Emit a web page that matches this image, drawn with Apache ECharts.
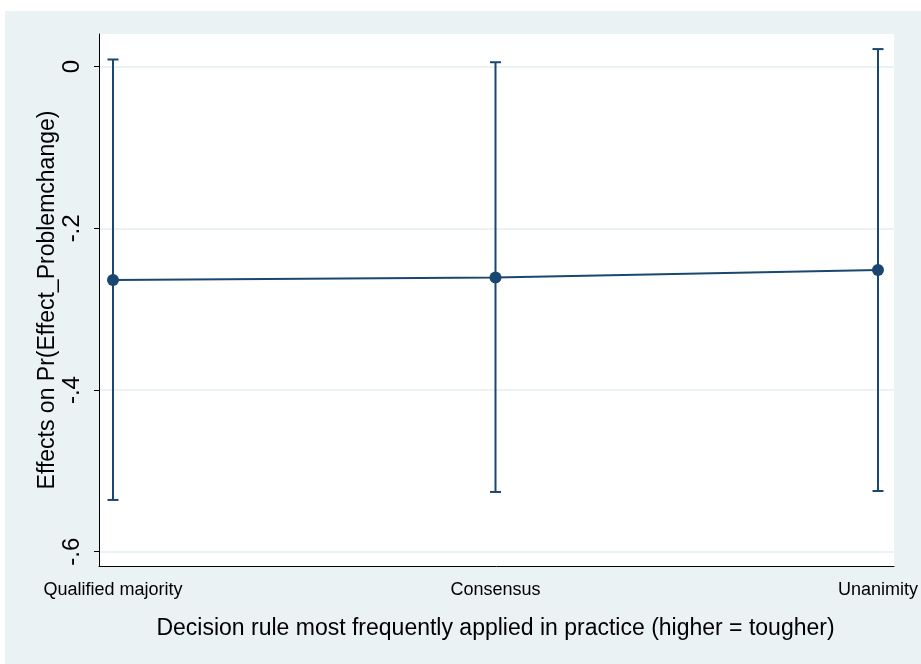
<!DOCTYPE html>
<html>
<head>
<meta charset="utf-8">
<script src="https://cdn.jsdelivr.net/npm/echarts@6/dist/echarts.min.js"></script>
<style>
html,body{margin:0;padding:0;background:#fff;}
#chart{width:921px;height:664px;}
</style>
</head>
<body>
<div id="chart"></div>
<script>
var categories = ['Qualified majority', 'Consensus', 'Unanimity'];
var margins = [-0.264, -0.261, -0.2516];
var upperCI = [0.0094, 0.006, 0.0223];
var lowerCI = [-0.5367, -0.5268, -0.5256];
var yTickMin = -0.6, yTickMax = 0, yTickStep = 0.2;
var xTitle = 'Decision rule most frequently applied in practice (higher = tougher)';
var yTitle = 'Effects on Pr(Effect_Problemchange)';

var navy = '#1a476f';
var bg = '#eaf2f3';
var font = 'Liberation Sans, Arial, Helvetica, sans-serif';

var chart = echarts.init(document.getElementById('chart'), null, {renderer: 'canvas'});

function fmtY(v) {
  var r = Math.round(v * 10) / 10;
  if (r === 0) return '0';
  var s = String(Math.abs(r)).replace(/^0/, '');
  return (r < 0 ? '-' : '') + s;
}

var errData = categories.map(function (c, i) { return [i, lowerCI[i], upperCI[i]]; });

var option = {
  backgroundColor: bg,
  animation: false,
  graphic: [
    {type: 'rect', z: 100, shape: {x: 0, y: 0, width: 921, height: 11}, style: {fill: '#fff'}},
    {type: 'rect', z: 100, shape: {x: 0, y: 0, width: 5, height: 664}, style: {fill: '#fff'}}
  ],
  grid: [
    {left: 99, top: 34, width: 795, height: 532, show: true, backgroundColor: '#fff', borderWidth: 0, containLabel: false},
    {left: 99, top: 66.7, width: 795, height: 485, show: false, containLabel: false},
    {left: 113, top: 34, width: 766, height: 532, show: false, containLabel: false}
  ],
  xAxis: [
    {gridIndex: 0, type: 'value', min: 0, max: 1,
     axisLine: {show: true, lineStyle: {color: '#000', width: 1}}, axisTick: {show: false},
     axisLabel: {show: false}, splitLine: {show: false}},
    {gridIndex: 1, type: 'value', min: 0, max: 1, show: false},
    {gridIndex: 2, type: 'category', data: categories, boundaryGap: false,
     axisLine: {show: false},
     axisTick: {show: true, length: 9, lineStyle: {color: '#000', width: 1}},
     axisLabel: {show: true, margin: 15, color: '#000', fontSize: 18, fontFamily: font, interval: 0},
     splitLine: {show: false},
     name: xTitle, nameLocation: 'middle', nameGap: 51,
     nameTextStyle: {color: '#000', fontSize: 23, fontFamily: font}}
  ],
  yAxis: [
    {gridIndex: 0, type: 'value', min: 0, max: 1,
     axisLine: {show: true, lineStyle: {color: '#000', width: 1}}, axisTick: {show: false},
     axisLabel: {show: false}, splitLine: {show: false},
     name: yTitle, nameLocation: 'middle', nameGap: 40,
     nameTextStyle: {color: '#000', fontSize: 23, fontFamily: font}},
    {gridIndex: 1, type: 'value', min: yTickMin, max: yTickMax, interval: yTickStep,
     axisLine: {show: false},
     axisTick: {show: true, length: 5, lineStyle: {color: '#000', width: 1}},
     axisLabel: {show: true, rotate: 90, margin: 15, color: '#000', fontSize: 24, fontFamily: font, formatter: fmtY},
     splitLine: {show: true, lineStyle: {color: bg, width: 2}}},
    {gridIndex: 2, type: 'value', min: -0.6186, max: 0.041, show: false}
  ],
  series: [
    {
      type: 'custom', xAxisIndex: 2, yAxisIndex: 2, z: 3,
      data: errData,
      renderItem: function (params, api) {
        var x = api.value(0);
        var lo = api.coord([x, api.value(1)]);
        var hi = api.coord([x, api.value(2)]);
        var hw = 5.5;
        var st = {stroke: navy, lineWidth: 2};
        return {type: 'group', children: [
          {type: 'line', shape: {x1: lo[0], y1: lo[1], x2: hi[0], y2: hi[1]}, style: st},
          {type: 'line', shape: {x1: lo[0] - hw, y1: lo[1], x2: lo[0] + hw, y2: lo[1]}, style: st},
          {type: 'line', shape: {x1: hi[0] - hw, y1: hi[1], x2: hi[0] + hw, y2: hi[1]}, style: st}
        ]};
      }
    },
    {
      type: 'line', xAxisIndex: 2, yAxisIndex: 2, z: 4,
      data: margins,
      symbol: 'circle', symbolSize: 12,
      itemStyle: {color: navy},
      lineStyle: {color: navy, width: 2},
      clip: false
    }
  ]
};
chart.setOption(option);
</script>
</body>
</html>
